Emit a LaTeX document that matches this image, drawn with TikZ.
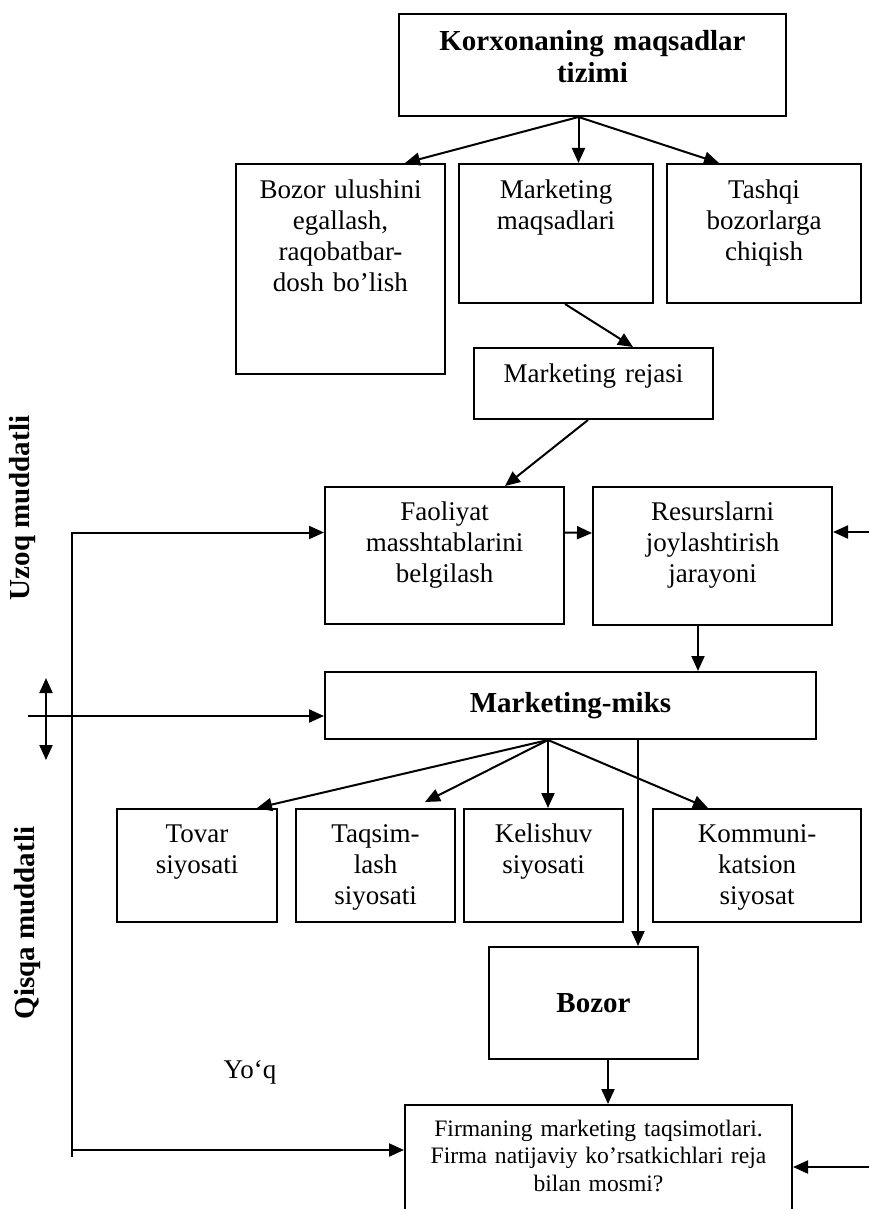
\documentclass[tikz,border=0pt]{standalone}
\usepackage{fontspec}
\setmainfont{Liberation Serif}
\usetikzlibrary{arrows.meta}

\begin{document}
\begin{tikzpicture}[x=0.5pt, y=-0.5pt,
    box/.style n args={3}{draw, line width=1pt, anchor=north west, align=center,
        inner xsep=2pt, inner ysep=0pt, text width=#1, text height=#2, text depth=#3,
        font=\fontsize{13.5}{15.5}\selectfont},
    hd/.style={font=\fontsize{14.5}{16}\selectfont\bfseries},
    >={Triangle[length=7.5pt,width=6.5pt]},
    arr/.style={->, line width=1pt}]
    \path[use as bounding box] (0,0) rectangle (869,1209);
    \clip (0,0) rectangle (869,1209);

    % goals
    \node[box={189.5pt}{18.5pt}{32.5pt}, hd] (korx) at (398,13) {Korxonaning maqsadlar\\tizimi};
    \node[box={100.5pt}{17.5pt}{87.5pt}] (ulush) at (235,163) {Bozor ulushini\\egallash,\\raqobatbar-\\dosh bo’lish};
    \node[box={93pt}{17.5pt}{52pt}] (maqsad) at (458,163) {Marketing\\maqsadlari};
    \node[box={93pt}{17.5pt}{52pt}] (tashqi) at (666,163) {Tashqi\\bozorlarga\\chiqish};
    \node[box={115.5pt}{17pt}{18.5pt}] (reja) at (473,347) {Marketing rejasi};

    % long term
    \node[box={115.5pt}{16.5pt}{52pt}] (faol) at (324,486) {Faoliyat\\masshtablarini\\belgilash};
    \node[box={115.5pt}{16.5pt}{52.5pt}] (resurs) at (592,486) {Resurslarni\\joylashtirish\\jarayoni};

    % short term
    \node[draw, line width=1pt, anchor=north west, minimum width=245.5pt, minimum height=33.5pt, inner sep=0pt, hd] (miks) at (324,671) {Marketing-miks};
    \node[box={76pt}{16.5pt}{40pt}] (tovar) at (116,808) {Tovar\\siyosati};
    \node[box={75.5pt}{16.5pt}{40pt}] (taqsim) at (295,808) {Taqsim-\\lash\\siyosati};
    \node[box={75.5pt}{16.5pt}{40pt}] (kelish) at (463,808) {Kelishuv\\siyosati};
    \node[box={100pt}{16.5pt}{40pt}] (kommun) at (652,808) {Kommuni-\\katsion\\siyosat};
    \node[draw, line width=1pt, anchor=north west, minimum width=104.5pt, minimum height=56pt, inner sep=0pt, hd] (bozor) at (488,946) {Bozor};
    \node[box={189.5pt}{15.5pt}{62.5pt}, font=\fontsize{11.8}{13.75}\selectfont] (firma) at (404,1104) {Firmaning marketing taqsimotlari.\\Firma natijaviy ko’rsatkichlari reja\\bilan mosmi?};

    \node[font=\fontsize{13.5}{15}\selectfont] (yoq) at (250,1072) {Yo‘q};
    \node[hd, rotate=90] (uzoq) at (23,508) {Uzoq muddatli};
    \node[hd, rotate=90] (qisqa) at (28,923) {Qisqa muddatli};

    % arrows
    \coordinate (ktop) at ([xshift=-7pt]korx.south);
    \draw[arr] (ktop) -- ([xshift=-20.5pt]ulush.north east);
    \draw[arr] (ktop) -- (ktop |- maqsad.north);
    \draw[arr] (ktop) -- ([xshift=26.5pt]tashqi.north west);
    \draw[arr] ([xshift=4.5pt]maqsad.south) -- ([xshift=19.75pt]reja.north);
    \draw[arr] ([xshift=-2.75pt]reja.south) -- ([xshift=30.25pt]faol.north);
    \draw[arr] ([yshift=11.5pt]faol.east) -- ([yshift=11.5pt]resurs.west);
    \draw[arr] ([xshift=-7.25pt]resurs.south) -- ([xshift=-7.25pt]resurs.south |- miks.north);

    \coordinate (rin) at (869,532);
    \draw[arr] (rin) -- (rin -| resurs.east);
    \coordinate (lbot) at (72,1157);
    \draw[arr] (lbot) |- ([yshift=11.5pt]faol.west);
    \coordinate (lno) at (72,1150);
    \draw[arr] (lno) -- (lno -| firma.west);
    \coordinate (dup) at (46,678);
    \coordinate (ddn) at (46,760);
    \draw[<->, line width=1pt] (dup) -- (ddn);
    \coordinate (hin) at (28,716);
    \draw[arr] (hin) -- (hin -| miks.west);

    \coordinate (mtop) at ([xshift=-11.25pt]miks.south);
    \draw[arr] (mtop) -- ([xshift=-10.5pt]tovar.north east);
    \draw[arr] (mtop) -- ([xshift=-15.5pt, yshift=3pt]taqsim.north east);
    \draw[arr] (mtop) -- (mtop |- kelish.north);
    \draw[arr] (mtop) -- ([xshift=28pt]kommun.north west);
    \draw[arr] ([xshift=33.75pt]miks.south) -- ([xshift=33.75pt]miks.south |- bozor.north);
    \draw[arr] ([xshift=7.25pt]bozor.south) -- ([xshift=7.25pt]bozor.south |- firma.north);
    \coordinate (rin2) at (869,1167);
    \draw[arr] (rin2) -- (rin2 -| firma.east);
\end{tikzpicture}
\end{document}
